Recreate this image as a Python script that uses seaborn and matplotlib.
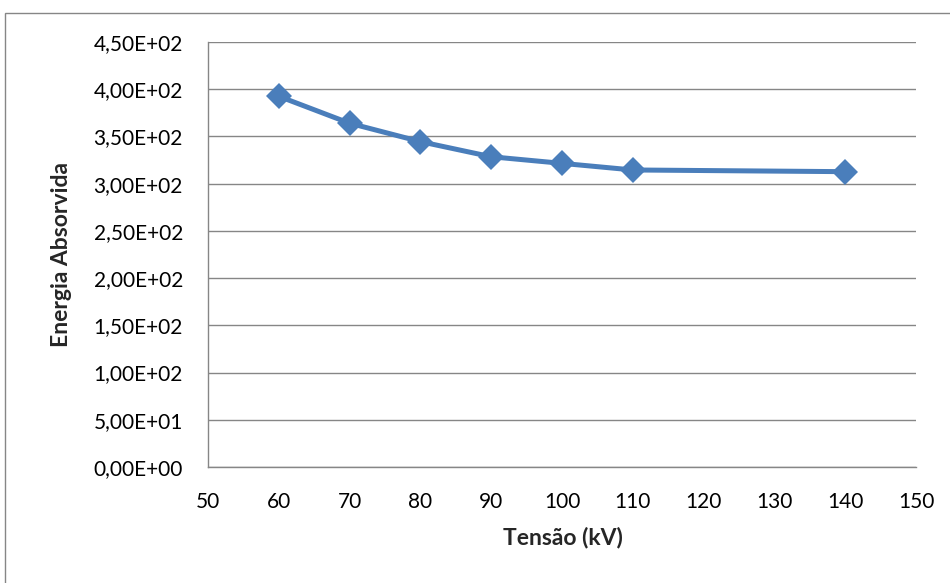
import matplotlib
matplotlib.use("Agg")
import matplotlib.pyplot as plt
import seaborn as sns
import pandas as pd
from matplotlib.patches import Rectangle
from matplotlib.ticker import FuncFormatter

tensao = [60, 70, 80, 90, 100, 110, 140]
energia = [392.5, 364.0, 344.5, 328.5, 321.5, 314.5, 312.7]

x_ticks = list(range(50, 151, 10))
y_ticks = [i * 50 for i in range(10)]

sns.set_theme(style="white")
plt.rcParams["font.family"] = ["Lato", "DejaVu Sans"]

df = pd.DataFrame({"Tensão (kV)": tensao, "Energia Absorvida": energia})

fig = plt.figure(figsize=(9.5, 5.83), dpi=100)
W, H = 950, 583
ax = fig.add_axes([208 / W, 1 - 467 / H, (916 - 208) / W, (467 - 42) / H])

# outer chart frame
fig.patches.append(Rectangle((5 / W, -0.01), 1.0, 1 - 13 / H + 0.01, transform=fig.transFigure,
                             fill=False, edgecolor="#868686", linewidth=1.0))

sns.lineplot(data=df, x="Tensão (kV)", y="Energia Absorvida", ax=ax,
             color="#4A7EBB", linewidth=3.6, marker="D", markersize=13.5,
             markeredgecolor="#4A7EBB", markeredgewidth=0)

ax.set_xlim(50, 150)
ax.set_ylim(0, 450)
ax.set_xticks(x_ticks)
ax.set_yticks(y_ticks)


def sci_comma(v, pos):
    s = f"{v:.2E}"
    mant, exp = s.split("E")
    e = int(exp)
    return f"{mant.replace('.', ',')}E{'+' if e >= 0 else '-'}{abs(e):02d}"


ax.yaxis.set_major_formatter(FuncFormatter(sci_comma))
ax.grid(axis="y", color="#868686", linewidth=1.0)
ax.grid(axis="x", visible=False)
ax.set_axisbelow(True)

for side in ["top", "right"]:
    ax.spines[side].set_visible(False)
for side in ["left", "bottom"]:
    ax.spines[side].set_color("#868686")
    ax.spines[side].set_linewidth(1.0)

ax.tick_params(axis="both", length=0, labelsize=15, colors="black")
ax.tick_params(axis="y", pad=18)
ax.tick_params(axis="x", pad=18)

ax.set_xlabel("Tensão (kV)", fontsize=16.5, fontweight="bold")
ax.set_ylabel("Energia Absorvida", fontsize=16.5, fontweight="bold")
ax.xaxis.set_label_coords((563 - 208) / (916 - 208), -(537 - 467) / (467 - 42))
ax.yaxis.set_label_coords(-(208 - 62) / (916 - 208), 0.5)
ax.xaxis.label.set_va("center")
ax.yaxis.label.set_va("center")

fig.savefig("out.png", dpi=100)
